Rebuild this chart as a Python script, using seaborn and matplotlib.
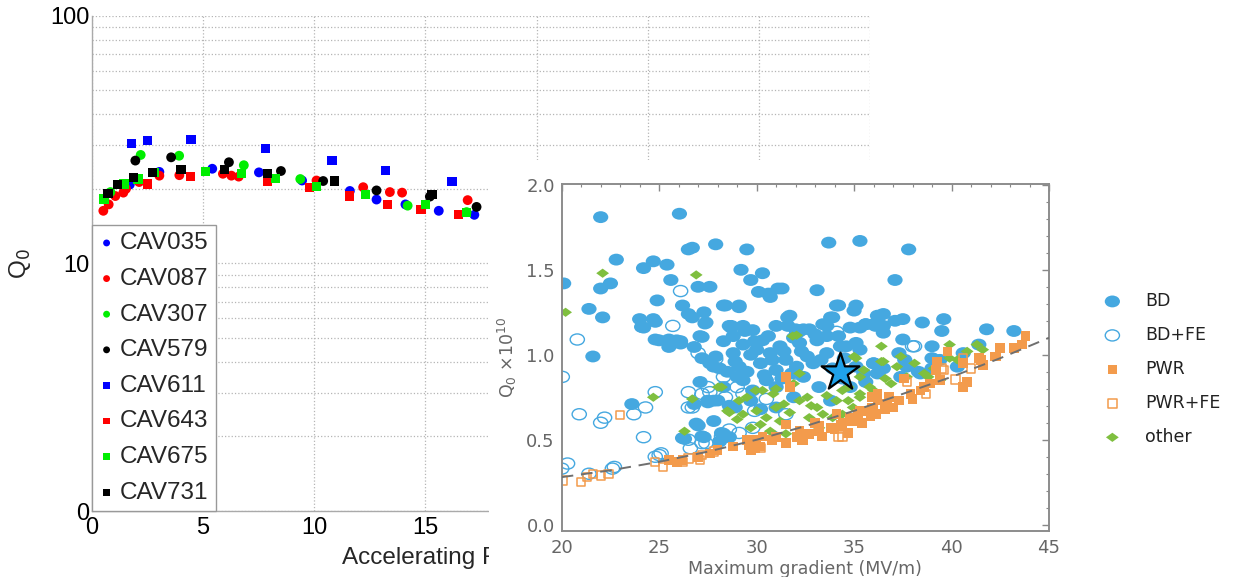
import numpy as np
import matplotlib
matplotlib.use("Agg")
import matplotlib.pyplot as plt
from matplotlib.path import Path
from matplotlib.markers import MarkerStyle
from matplotlib.patches import Rectangle
from matplotlib.ticker import NullFormatter, MultipleLocator
from matplotlib.transforms import Affine2D
import seaborn as sns

# ---------------- Left panel: Q0 vs accelerating field per cavity ----------------
cav_names = ["CAV035", "CAV087", "CAV307", "CAV579", "CAV611", "CAV643", "CAV675", "CAV731"]

cav035_e = [1.70, 3.03, 5.41, 7.51, 9.45, 11.6, 12.8, 14.1, 15.6, 17.2]
cav035_q = [20.8, 23.4, 24.1, 23.3, 21.6, 19.6, 18.1, 17.3, 16.3, 15.7]

cav087_e = [0.51, 0.75, 1.05, 1.41, 1.53, 2.12, 3.03, 3.93, 5.89, 6.27, 6.6, 10.1, 12.2, 13.4, 13.95, 16.9]
cav087_q = [16.3, 17.3, 18.7, 19.3, 20.0, 21.3, 22.6, 22.7, 23.0, 22.6, 22.4, 21.6, 20.3, 19.4, 19.3, 18.0]

cav307_e = [0.83, 2.19, 3.92, 6.83, 9.37, 14.2, 16.85]
cav307_q = [19.4, 27.4, 27.2, 24.9, 21.9, 17.1, 16.1]

cav579_e = [1.95, 3.56, 6.16, 8.5, 10.4, 12.8, 15.2, 17.3]
cav579_q = [26.0, 26.8, 25.6, 23.6, 21.5, 19.7, 18.6, 16.9]

cav611_e = [1.76, 2.48, 4.45, 7.81, 10.8, 13.2, 16.2]
cav611_q = [30.5, 31.3, 31.6, 29.0, 26.1, 23.7, 21.4]

cav643_e = [2.48, 4.43, 7.88, 9.79, 11.6, 13.3, 14.8, 16.5]
cav643_q = [20.9, 22.5, 21.5, 20.2, 18.7, 17.3, 16.5, 15.8]

cav675_e = [0.54, 1.44, 2.07, 2.79, 5.09, 6.73, 8.26, 10.1, 12.3, 15.0, 16.85]
cav675_q = [18.2, 20.9, 21.9, 23.3, 23.5, 23.0, 22.0, 20.5, 18.9, 17.3, 16.0]

cav731_e = [0.72, 1.16, 1.88, 2.73, 4.0, 5.95, 7.9, 10.9, 15.3]
cav731_q = [19.1, 20.8, 22.2, 23.3, 23.9, 23.9, 23.1, 21.5, 19.0]

left_yticks = [1, 10, 100]
left_yticklabels = ["0", "10", "100"]
left_xticks = [0, 5, 10, 15, 20, 25, 30, 35]
left_xticklabels = ["0", "5", "10", "15", "", "", "", ""]

# ---------------- Right panel: Q0 vs maximum gradient by limitation ----------------
bd_g = [22.0, 26.04, 26.5, 26.7, 27.9, 29.5, 33.7, 35.3, 37.8, 37.1,
        22.8, 24.2, 24.7, 25.4, 22.5, 22.0, 25.6, 27.0, 20.1,
        29.2, 30.3, 29.7, 30.1, 30.6, 30.7, 31.1, 31.3, 33.1,
        34.1, 35.0, 29.1, 28.4, 21.4, 22.1, 24.0, 24.7, 24.2,
        26.2, 26.5, 27.3, 26.7, 27.4, 24.8, 25.5, 26.1, 27.1,
        21.6, 28.6, 29.3, 29.4, 28.8, 30.6, 31.6, 32.0, 33.4,
        33.8, 33.6, 35.3, 35.6, 36.2, 36.5,
        35.1, 37.5, 38.5, 39.6, 36.5, 37.1, 36.1, 36.5, 39.5, 41.8, 43.2, 37.5, 39.0, 41.4,
        37.3, 39.0, 40.6, 38.4, 39.0, 36.5, 35.3, 36.0, 35.5, 37.6, 37.7, 39.4, 40.3, 36.2, 37.4, 38.3,
        28.7, 29.8, 31.0, 32.05, 32.7, 33.6, 34.8, 35.6, 28.3, 29.3, 30.3, 31.2, 32.2, 33.1, 34.3, 35.1,
        27.9, 28.8, 29.7, 30.7, 31.5, 32.6, 33.6, 28.1, 29.1, 30.2, 31.0, 32.05, 32.9,
        27.8, 28.3, 29.3, 29.8, 31.0, 30.5, 31.9, 32.4, 33.2, 34.8, 35.6, 28.3, 28.6, 27.8, 34.4,
        33.8, 29.7, 30.2, 31.0, 28.6, 35.1, 36.0,
        28.9, 29.5, 30.0, 30.8, 31.4, 31.8, 32.3, 33.3, 33.9, 34.5, 34.6, 29.0, 30.4, 31.3, 28.5,
        29.9, 31.9, 33.0, 34.2, 27.6, 27.2,
        23.6, 27.1, 26.8, 27.5, 26.9, 26.2, 27.2, 28.2, 28.1, 28.9, 27.5, 27.0, 26.3, 27.3,
        27.8, 27.2, 26.8, 25.0, 25.5, 25.9, 26.1, 24.1, 24.8, 27.35, 28.0,
        24.9, 27.6, 28.3, 29.1, 34.2, 31.7, 31.6, 28.7, 33.9, 32.4, 36.0, 36.3]
bd_q = [1.81, 1.83, 1.62, 1.63, 1.65, 1.62, 1.66, 1.67, 1.62, 1.44,
        1.56, 1.51, 1.55, 1.53, 1.42, 1.39, 1.44, 1.40, 1.42,
        1.50, 1.48, 1.44, 1.37, 1.36, 1.34, 1.39, 1.39, 1.38,
        1.29, 1.26, 1.28, 1.29, 1.27, 1.22, 1.21, 1.21, 1.16,
        1.29, 1.24, 1.25, 1.22, 1.19, 1.09, 1.09, 1.08, 1.11,
        0.99, 1.17, 1.17, 1.14, 1.11, 1.11, 1.22, 1.15, 1.18,
        1.22, 1.11, 1.16, 1.18, 1.23, 1.17,
        1.29, 1.21, 1.19, 1.21, 1.24, 1.20, 1.17, 1.13, 1.14, 1.15, 1.14, 1.09, 1.05, 1.06,
        1.01, 0.98, 1.01, 0.89, 0.92, 0.92, 1.03, 0.95, 0.89, 0.97, 0.93, 0.97, 0.93, 0.89, 0.87, 0.90,
        1.16, 1.145, 1.17, 1.125, 1.15, 1.17, 1.16, 1.18, 1.08, 1.06, 1.085, 1.05, 1.07, 1.085, 1.05, 1.07,
        0.99, 1.01, 1.00, 1.01, 0.97, 0.99, 1.01, 0.92, 0.93, 0.95, 0.91, 0.93, 0.95,
        0.73, 0.81, 0.85, 0.79, 0.81, 0.85, 0.75, 0.87, 0.81, 0.81, 0.84, 0.535, 0.515, 0.61, 0.86,
        0.73, 0.73, 0.68, 0.69, 0.70, 0.93, 0.95,
        0.96, 0.90, 1.03, 0.97, 1.02, 0.89, 1.02, 0.97, 0.92, 0.98, 1.05, 0.87, 0.88, 0.86, 0.90,
        1.08, 1.10, 1.12, 1.11, 0.95, 0.98,
        0.71, 0.84, 0.71, 0.73, 0.595, 0.51, 0.52, 0.54, 0.49, 0.69, 0.72, 0.584, 0.505, 0.515,
        0.93, 1.105, 1.046, 1.085, 1.046, 1.085, 1.066, 1.164, 1.194, 1.184, 0.731,
        1.32, 1.40, 1.29, 1.29, 1.29, 1.23, 1.17, 1.17, 1.22, 1.15, 1.18, 1.23]

bdfe_g = [20.8, 20.03, 20.9, 22.0, 22.2, 23.7, 24.3, 24.2, 24.8, 20.3, 22.7, 25.0, 25.1,
          25.7, 26.1, 26.5, 26.7, 27.2, 27.5, 27.0, 26.6, 27.2, 28.9, 27.9, 29.0, 28.4, 27.6,
          26.5, 21.4, 22.6, 24.8, 26.5, 27.4, 28.2, 29.1, 29.9, 30.8, 32.0, 34.1, 38.1, 38.0,
          29.3, 28.6, 29.8, 28.3, 30.5, 32.2, 31.5, 20.0]
bdfe_q = [1.09, 0.87, 0.65, 0.60, 0.63, 0.65, 0.69, 0.515, 0.78, 0.36, 0.34, 0.41, 0.42,
          1.17, 1.375, 0.78, 0.69, 0.77, 0.81, 1.01, 0.45, 0.48, 1.155, 0.975, 0.81, 0.75, 0.78,
          0.69, 0.30, 0.33, 0.40, 0.50, 0.48, 0.52, 0.54, 0.67, 0.52, 0.89, 1.135, 1.05, 1.05,
          0.77, 0.56, 0.57, 0.87, 0.74, 1.14, 0.65, 0.33]

pwr_g = [31.5, 31.7, 25.5, 25.9, 27.6, 28.8, 29.6, 29.8, 29.95, 30.3, 30.8, 31.5, 32.2, 32.3,
         33.35, 33.2, 34.0, 34.4, 34.9, 35.2, 35.9, 36.2, 36.6, 35.9, 35.4,
         34.7, 35.1, 35.85, 36.0, 36.7, 37.3, 37.9, 38.4, 38.9, 39.4, 37.55, 39.25, 39.8, 40.6,
         40.8, 40.6, 41.4, 41.6, 42.2, 42.5, 43.2, 43.6, 43.8, 34.3, 35.3, 36.2,
         42.3, 41.5, 39.2, 29.5, 30.2, 31.0, 32.05, 32.7, 33.2, 33.8, 34.3, 34.8, 35.6, 36.15,
         31.5, 34.1, 29.7, 32.4, 30.0, 26.2, 27.0, 28.0, 33.0, 36.8, 37.0, 38.0, 38.6]
pwr_q = [0.87, 0.81, 0.38, 0.37, 0.42, 0.46, 0.47, 0.50, 0.45, 0.52, 0.50, 0.48, 0.55, 0.50,
         0.52, 0.58, 0.56, 0.60, 0.61, 0.65, 0.69, 0.73, 0.68, 0.75, 0.60,
         0.54, 0.62, 0.64, 0.68, 0.71, 0.73, 0.77, 0.79, 0.83, 0.85, 0.86, 0.96, 1.02, 0.95,
         0.84, 0.81, 0.98, 0.94, 0.99, 1.04, 1.04, 1.06, 1.11, 0.58, 0.67, 0.77,
         0.99, 0.97, 0.91, 0.50, 0.46, 0.515, 0.515, 0.535, 0.55, 0.57, 0.59, 0.63, 0.67, 0.65,
         0.59, 0.65, 0.44, 0.50, 0.49, 0.38, 0.40, 0.44, 0.60, 0.75, 0.69, 0.74, 0.81]

pwrfe_g = [23.0, 21.0, 21.3, 21.6, 22.0, 22.4, 24.8, 25.2, 26.2, 26.5, 27.1, 27.2, 30.2,
           34.2, 40.2, 41.0, 38.7, 39.6, 40.6, 39.5, 37.7, 34.4, 27.8, 20.05]
pwrfe_q = [0.645, 0.25, 0.28, 0.30, 0.29, 0.30, 0.37, 0.34, 0.37, 0.39, 0.38, 0.41, 0.45,
           0.52, 0.855, 0.92, 0.77, 0.91, 0.98, 0.92, 0.84, 0.515, 0.43, 0.26]

other_g = [22.1, 26.9, 20.2, 31.85, 24.7, 28.2, 26.7, 26.3, 29.1, 29.95, 31.0, 35.1, 36.4, 36.4,
           39.9, 41.3, 41.6, 35.0, 36.5, 37.4, 39.9, 40.3, 38.6, 37.7, 36.9, 36.0, 35.3, 34.7,
           39.4, 35.3, 34.7, 32.05, 28.5, 29.3, 30.0, 30.3, 30.85, 30.2, 30.7, 31.2, 31.7, 32.2,
           31.9, 32.6, 33.1, 33.4, 34.1, 34.4, 34.95, 35.5, 35.3, 35.8, 32.4, 33.2, 31.5, 29.7,
           33.9, 34.4, 32.7, 31.4, 32.2, 29.5, 28.6, 29.0, 30.5, 31.0, 32.8, 33.6, 36.6, 37.2,
           38.1, 39.1, 40.8, 38.8, 28.03]
other_q = [1.48, 1.47, 1.25, 1.11, 0.75, 0.81, 0.74, 0.55, 0.73, 0.79, 0.80, 0.98, 1.05, 0.96,
           1.06, 1.06, 1.03, 0.99, 0.96, 0.99, 0.98, 0.97, 0.89, 0.87, 0.83, 0.79, 0.77, 0.73,
           0.85, 0.87, 0.81, 1.115, 0.67, 0.65, 0.67, 0.79, 0.77, 0.59, 0.55, 0.61, 0.66, 0.89,
           0.83, 0.75, 0.69, 0.65, 0.73, 0.79, 0.69, 0.91, 0.75, 0.81, 0.515, 0.57, 0.535, 0.57,
           0.63, 0.65, 0.63, 0.71, 0.73, 0.75, 0.66, 0.62, 0.63, 0.69, 0.70, 0.76, 0.86, 0.93,
           0.95, 0.92, 1.02, 0.87, 0.81]

# lower-envelope guide curve
fit_g = [20, 22.5, 25, 27.5, 30, 32.5, 35, 37.5, 40, 42.5, 45]
fit_q = [0.28, 0.32, 0.37, 0.43, 0.50, 0.58, 0.67, 0.77, 0.87, 0.98, 1.10]

# highlighted cavity
star_g = [34.3]
star_q = [0.90]

right_xticks = [20, 25, 30, 35, 40, 45]
right_yticks = [0.0, 0.5, 1.0, 1.5, 2.0]

# ---------------- styling ----------------
sns.set_style("white")
plt.rcParams["font.family"] = ["Liberation Sans", "DejaVu Sans"]
right_font = ["DejaVu Sans"]

fig = plt.figure(figsize=(12.33, 5.77), dpi=100)

# Left axes
ax1 = fig.add_axes([92 / 1233, 1 - 511 / 577, (870 - 92) / 1233, (511 - 15.7) / 577])
ax1.set_zorder(1)
ax1.set_yscale("log")
ax1.set_xlim(0, 35)
ax1.set_ylim(1, 100)

left_series = [
    (cav035_e, cav035_q, "#0000ff", "o"),
    (cav087_e, cav087_q, "#ff0000", "o"),
    (cav307_e, cav307_q, "#00ee00", "o"),
    (cav579_e, cav579_q, "#000000", "o"),
    (cav611_e, cav611_q, "#0000ff", "s"),
    (cav643_e, cav643_q, "#ff0000", "s"),
    (cav675_e, cav675_q, "#00ee00", "s"),
    (cav731_e, cav731_q, "#000000", "s"),
]
for name, (xe, yq, col, mk) in zip(cav_names, left_series):
    sns.scatterplot(x=xe, y=yq, ax=ax1, color=col, marker=mk,
                    s=50 if mk == "o" else 44, edgecolor="none", linewidth=0,
                    label=name, zorder=3)

ax1.set_xticks(left_xticks)
ax1.set_xticklabels(left_xticklabels)
ax1.set_yticks(left_yticks)
ax1.set_yticklabels(left_yticklabels)
ax1.yaxis.set_minor_formatter(NullFormatter())
ax1.tick_params(axis="both", which="major", direction="in", length=5, color="#aaaaaa",
                labelsize=17, labelcolor="black", pad=4)
ax1.tick_params(axis="y", which="minor", length=0)
ax1.tick_params(axis="y", which="major", pad=2)
ax1.grid(True, which="major", axis="x", linestyle=":", color="#b5b5b5", linewidth=0.9)
ax1.grid(True, which="both", axis="y", linestyle=":", color="#b5b5b5", linewidth=0.9)
for side in ["top", "right"]:
    ax1.spines[side].set_visible(False)
for side in ["left", "bottom"]:
    ax1.spines[side].set_color("#aaaaaa")
    ax1.spines[side].set_linewidth(1.0)
ax1.set_xlabel("Accelerating Field (MV/m)", fontsize=17.5, labelpad=6)
ax1.set_ylabel("Q$_0$", fontsize=17.5, labelpad=12)

leg1 = ax1.legend(loc="lower left", bbox_to_anchor=(0, 0), borderaxespad=0,
                  frameon=True, fancybox=False, edgecolor="#999999", framealpha=1,
                  fontsize=17.5, handlelength=0.6, handletextpad=0.25,
                  labelspacing=0.56, borderpad=0.3, markerscale=0.7)
leg1.get_frame().set_linewidth(1.0)

# White panel that carries the second chart
fig.add_artist(Rectangle((489 / 1233, 0), 1 - 489 / 1233, 1 - 160 / 577,
                         transform=fig.transFigure, facecolor="white",
                         edgecolor="none", zorder=2))

# Right axes
ax2 = fig.add_axes([561.7 / 1233, 1 - 531 / 577, (1049 - 561.7) / 1233, (531 - 184) / 577])
ax2.set_zorder(3)
ax2.set_facecolor("white")
ax2.set_xlim(20, 45)
ax2.set_ylim(-0.037, 2.005)

ellipse = MarkerStyle(Path.unit_circle().transformed(Affine2D().scale(1.0, 0.78)))
diamond = MarkerStyle(Path([(-1, 0), (0, 0.72), (1, 0), (0, -0.72), (-1, 0)],
                           [Path.MOVETO, Path.LINETO, Path.LINETO, Path.LINETO, Path.CLOSEPOLY]))

c_bd = "#45a8e0"
c_pwr = "#f39b4c"
c_other = "#7fbf3f"

h_bd = sns.scatterplot(x=bd_g, y=bd_q, ax=ax2, marker=ellipse, s=120, color=c_bd,
                       edgecolor="none", linewidth=0, zorder=2).collections[-1]
h_bdfe = sns.scatterplot(x=bdfe_g, y=bdfe_q, ax=ax2, marker=ellipse, s=105, color=c_bd,
                         facecolor="none", edgecolor=c_bd, linewidth=1.0, zorder=2).collections[-1]
h_other = sns.scatterplot(x=other_g, y=other_q, ax=ax2, marker=diamond, s=85, color=c_other,
                          edgecolor="none", linewidth=0, zorder=2.2).collections[-1]
h_pwr = sns.scatterplot(x=pwr_g, y=pwr_q, ax=ax2, marker="s", s=48, color=c_pwr,
                        edgecolor="none", linewidth=0, zorder=2.4).collections[-1]
h_pwrfe = sns.scatterplot(x=pwrfe_g, y=pwrfe_q, ax=ax2, marker="s", s=36, color=c_pwr,
                          facecolor="none", edgecolor=c_pwr, linewidth=1.1, zorder=2.4).collections[-1]

sns.lineplot(x=fit_g, y=fit_q, ax=ax2, color="#6f6f6f", linewidth=1.4,
             linestyle=(0, (6, 4)), zorder=3)
sns.scatterplot(x=star_g, y=star_q, ax=ax2, marker="*", s=820, color="#1fa2ea",
                edgecolor="black", linewidth=1.6, zorder=5)

ax2.set_xticks(right_xticks)
ax2.set_yticks(right_yticks)
ax2.set_xticklabels([str(t) for t in right_xticks], family=right_font)
ax2.set_yticklabels([f"{t:.1f}" for t in right_yticks], family=right_font)
ax2.xaxis.set_minor_locator(MultipleLocator(1))
ax2.yaxis.set_minor_locator(MultipleLocator(0.1))
ax2.tick_params(axis="both", which="major", direction="in", length=5, width=1,
                color="#888888", top=True, right=True, labelsize=13,
                labelcolor="#666666", pad=5)
ax2.tick_params(axis="x", which="major", pad=6)
ax2.tick_params(axis="both", which="minor", direction="in", length=2.5, width=0.8,
                color="#888888", top=True, right=True)
for side in ax2.spines:
    ax2.spines[side].set_visible(True)
    ax2.spines[side].set_color("#8c8c8c")
    ax2.spines[side].set_linewidth(1.4)
ax2.set_xlabel("Maximum gradient (MV/m)", fontsize=12.5, color="#666666", labelpad=2,
               family=right_font)
ax2.set_ylabel("Q$_0$ \u00d710$^{10}$", fontsize=12.5, color="#666666", labelpad=5,
               family=right_font)
if ax2.get_legend() is not None:
    ax2.get_legend().remove()

fig.legend([h_bd, h_bdfe, h_pwr, h_pwrfe, h_other],
           ["BD", "BD+FE", "PWR", "PWR+FE", "other"],
           loc="upper left", bbox_to_anchor=(1095 / 1233, 1 - 292 / 577),
           frameon=False, prop={"family": right_font, "size": 12.5},
           handlelength=2.0, handletextpad=0.9, markerscale=1.0,
           labelspacing=0.92, borderpad=0, borderaxespad=0, labelcolor="#222222")

fig.savefig("out.png", dpi=100)
